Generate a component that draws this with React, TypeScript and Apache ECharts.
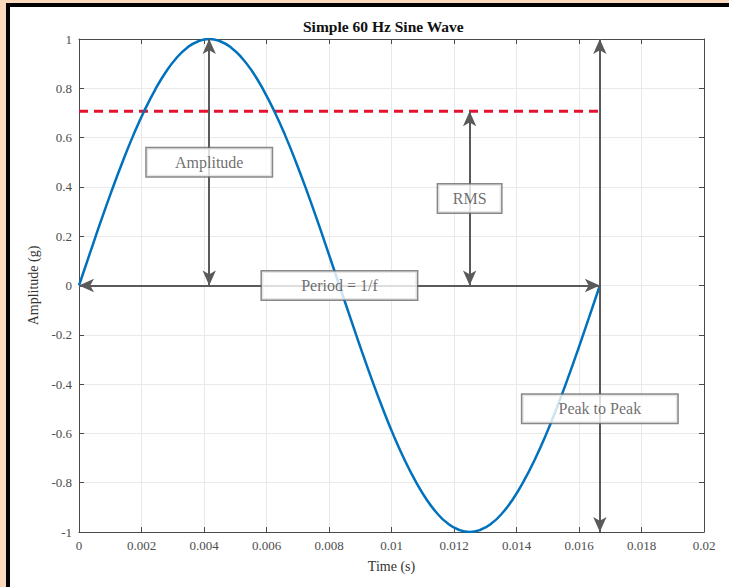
import React, { useEffect, useRef } from "react";
import * as echarts from "echarts";

// ---- Data ----
const timeS: number[] = [
  0, 0.000347, 0.000694, 0.001042, 0.001389, 0.001736, 0.002083, 0.002431,
  0.002778, 0.003125, 0.003472, 0.003819, 0.004167, 0.004514, 0.004861,
  0.005208, 0.005556, 0.005903, 0.00625, 0.006597, 0.006944, 0.007292,
  0.007639, 0.007986, 0.008333, 0.008681, 0.009028, 0.009375, 0.009722,
  0.010069, 0.010417, 0.010764, 0.011111, 0.011458, 0.011806, 0.012153,
  0.0125, 0.012847, 0.013194, 0.013542, 0.013889, 0.014236, 0.014583,
  0.014931, 0.015278, 0.015625, 0.015972, 0.016319, 0.016667,
];
const amplitudeG: number[] = [
  0, 0.13, 0.259, 0.383, 0.5, 0.609, 0.707, 0.793, 0.866, 0.924, 0.966, 0.991,
  1, 0.991, 0.966, 0.924, 0.866, 0.793, 0.707, 0.609, 0.5, 0.383, 0.259, 0.13,
  0, -0.13, -0.259, -0.383, -0.5, -0.609, -0.707, -0.793, -0.866, -0.924,
  -0.966, -0.991, -1, -0.991, -0.966, -0.924, -0.866, -0.793, -0.707, -0.609,
  -0.5, -0.383, -0.259, -0.13, 0,
];
const rmsLevel = 0.7071;
const periodEnd = 0.016667;
const peakTime = 0.004167;
const rmsArrowTime = 0.0125;

const xTicks: number[] = [0, 0.002, 0.004, 0.006, 0.008, 0.01, 0.012, 0.014, 0.016, 0.018, 0.02];
const yTicks: number[] = [-1, -0.8, -0.6, -0.4, -0.2, 0, 0.2, 0.4, 0.6, 0.8, 1];

const annotationNames = ["Amplitude", "RMS", "Period = 1/f", "Peak to Peak"];
const annotationX = [peakTime, rmsArrowTime, periodEnd / 2, periodEnd];
const annotationY = [0.5, 0.353, 0, -0.5];
const annotationW = [125, 63, 155, 155];

const SERIF = "'Liberation Serif', 'Times New Roman', serif";
const AXIS = "#4a4a4a";
const GRID = "#e9e9e9";
const ARROW = "#5a5a5a";

export default function App() {
  const ref = useRef<HTMLDivElement>(null);
  useEffect(() => {
    if (!ref.current) return;
    const chart = echarts.init(ref.current, undefined, { renderer: "svg" });
    const sineData = timeS.map((t, i) => [t, amplitudeG[i]]);
    const arrowSize = [10, 15];
    const option: any = {
      animation: false,
      backgroundColor: "transparent",
      title: {
        text: "Simple 60 Hz Sine Wave",
        left: 303,
        top: 18,
        padding: 0,
        textStyle: { fontFamily: SERIF, fontSize: 15.5, fontWeight: "bold", color: "#111" },
      },
      grid: { left: 79, right: 25, top: 39, bottom: 55, containLabel: false },
      xAxis: [
        {
          type: "value",
          min: xTicks[0],
          max: xTicks[xTicks.length - 1],
          interval: 0.002,
          name: "Time (s)",
          nameLocation: "middle",
          nameGap: 27,
          nameTextStyle: { fontFamily: SERIF, fontSize: 14, color: "#333" },
          axisLine: { show: true, onZero: false, lineStyle: { color: AXIS, width: 1 } },
          axisTick: { show: true, inside: true, length: 5, lineStyle: { color: AXIS } },
          axisLabel: {
            fontFamily: SERIF,
            fontSize: 13,
            color: "#4d4d4d",
            margin: 7,
            formatter: (v: number) => String(parseFloat(v.toFixed(4))),
          },
          splitLine: { show: true, lineStyle: { color: GRID, width: 1 } },
        },
        {
          type: "value",
          position: "top",
          min: xTicks[0],
          max: xTicks[xTicks.length - 1],
          interval: 0.002,
          axisLine: { show: true, onZero: false, lineStyle: { color: AXIS, width: 1 } },
          axisTick: { show: true, inside: true, length: 5, lineStyle: { color: AXIS } },
          axisLabel: { show: false },
          splitLine: { show: false },
        },
      ],
      yAxis: [
        {
          type: "value",
          min: yTicks[0],
          max: yTicks[yTicks.length - 1],
          interval: 0.2,
          name: "Amplitude (g)",
          nameLocation: "middle",
          nameGap: 35,
          nameTextStyle: { fontFamily: SERIF, fontSize: 14, color: "#333" },
          axisLine: { show: true, onZero: false, lineStyle: { color: AXIS, width: 1 } },
          axisTick: { show: true, inside: true, length: 5, lineStyle: { color: AXIS } },
          axisLabel: {
            fontFamily: SERIF,
            fontSize: 13,
            color: "#4d4d4d",
            margin: 7,
            formatter: (v: number) => String(parseFloat(v.toFixed(2))),
          },
          splitLine: { show: true, lineStyle: { color: GRID, width: 1 } },
        },
        {
          type: "value",
          position: "right",
          min: yTicks[0],
          max: yTicks[yTicks.length - 1],
          interval: 0.2,
          axisLine: { show: true, onZero: false, lineStyle: { color: AXIS, width: 1 } },
          axisTick: { show: true, inside: true, length: 5, lineStyle: { color: AXIS } },
          axisLabel: { show: false },
          splitLine: { show: false },
        },
      ],
      series: [
        {
          type: "line",
          name: "RMS level",
          data: [
            [0, rmsLevel],
            [periodEnd, rmsLevel],
          ],
          showSymbol: false,
          symbol: "none",
          lineStyle: { color: "#e3132f", width: 3, type: [9, 6] },
          silent: true,
          z: 2,
        },
        {
          type: "line",
          name: "Sine",
          data: sineData,
          smooth: true,
          showSymbol: false,
          symbol: "none",
          lineStyle: { color: "#0072BD", width: 2.5 },
          silent: true,
          z: 3,
        },
        {
          type: "scatter",
          name: "Annotations",
          symbolSize: 0,
          silent: true,
          z: 10,
          data: annotationNames.map((n, i) => ({
            name: n,
            value: [annotationX[i], annotationY[i]],
            label: { width: annotationW[i] },
          })),
          label: {
            show: true,
            position: "inside",
            formatter: "{b}",
            fontFamily: SERIF,
            fontSize: 16,
            color: "#4a4a4a",
            backgroundColor: "#fff",
            borderColor: "#6a6a6a",
            borderWidth: 1.5,
            height: 28,
            lineHeight: 28,
            align: "center",
            verticalAlign: "middle",
            padding: 0,
          },
          markLine: {
            silent: true,
            symbol: ["arrow", "arrow"],
            symbolSize: arrowSize,
            label: { show: false },
            lineStyle: { color: ARROW, width: 2, type: "solid" },
            emphasis: { disabled: true },
            data: [
              [{ coord: [peakTime, 0] }, { coord: [peakTime, 1] }],
              [{ coord: [0, 0] }, { coord: [periodEnd, 0] }],
              [{ coord: [rmsArrowTime, 0] }, { coord: [rmsArrowTime, rmsLevel] }],
              [{ coord: [periodEnd, -1] }, { coord: [periodEnd, 1] }],
            ],
          },
        },
      ],
    };
    chart.setOption(option);
    return () => chart.dispose();
  }, []);

  return (
    <div
      style={{
        position: "fixed",
        left: 0,
        top: 0,
        width: 729,
        height: 587,
        background: "#fad9bc",
        overflow: "hidden",
      }}
    >
      <div
        style={{
          position: "absolute",
          left: 6,
          top: 3,
          width: 729,
          height: 582,
          background: "#fff",
          borderLeft: "4px solid #000",
          borderTop: "4px solid #000",
          borderBottom: "1px solid #a8a8a8",
        }}
      />
      <div ref={ref} style={{ position: "absolute", left: 0, top: 0, width: 729, height: 587 }} />
    </div>
  );
}
